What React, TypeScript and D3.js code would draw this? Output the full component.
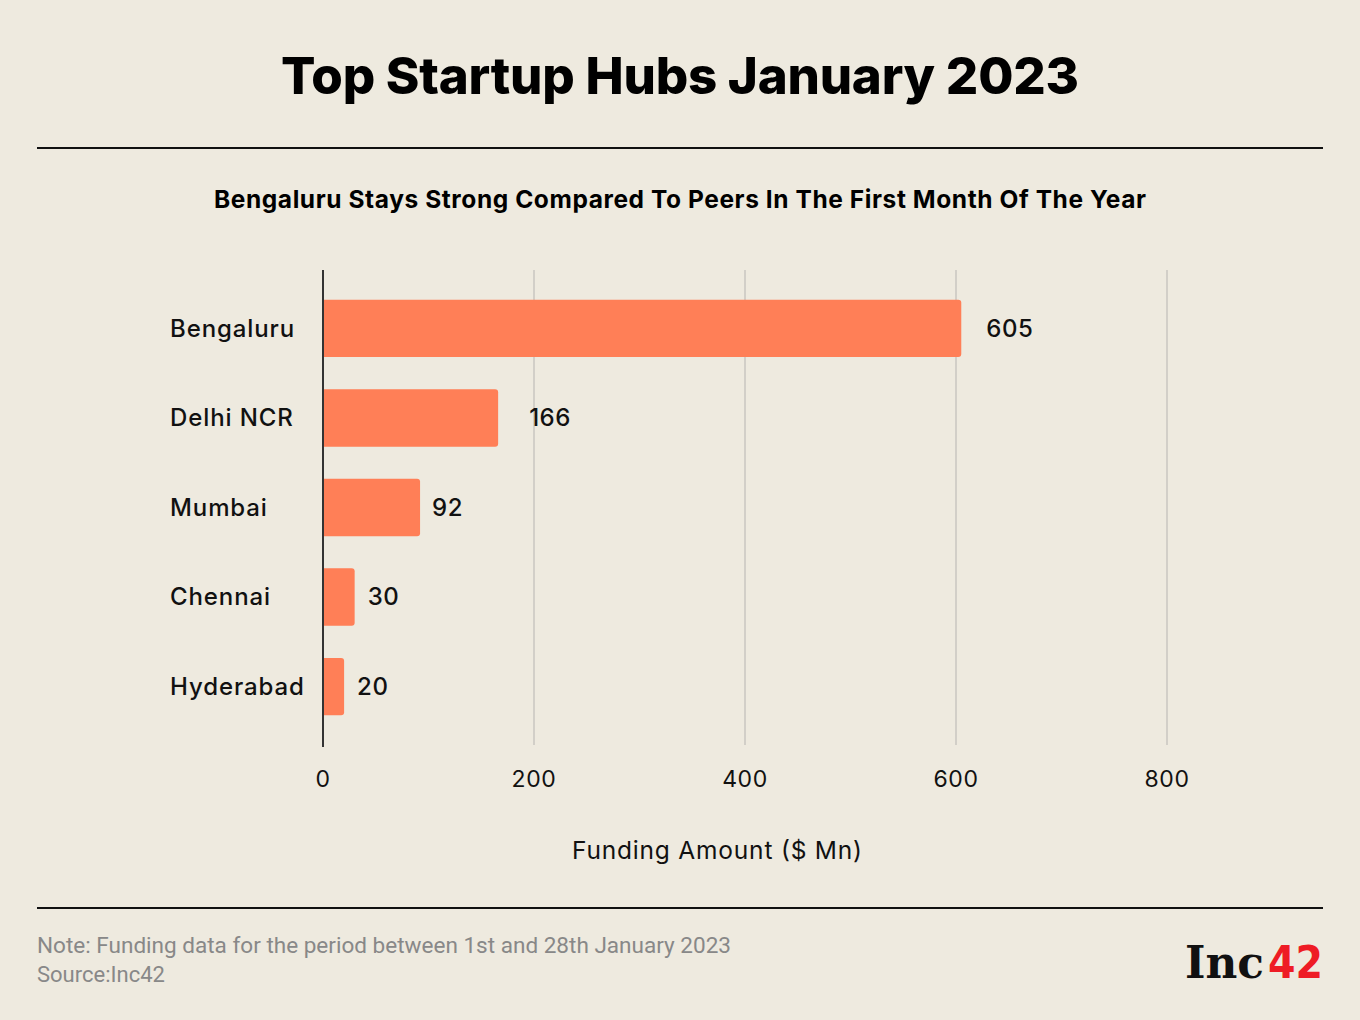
import React from "react";
import * as d3 from "d3";

const cities = ["Bengaluru", "Delhi NCR", "Mumbai", "Chennai", "Hyderabad"];
const funding = [605, 166, 92, 30, 20];
const xTicks = [0, 200, 400, 600, 800];
const labelDx = [25, 31, 12, 13, 13];

const W = 1360;
const H = 1020;
const BG = "#EEEADF";
const BAR = "#FF7F57";
const FONT = "Inter, 'Open Sans', sans-serif";

export default function App() {
  const x = d3.scaleLinear().domain([0, 800]).range([323, 1167]);
  const y = d3
    .scaleBand<string>()
    .domain(cities)
    .range([270, 745])
    .paddingInner(0.36)
    .paddingOuter(0.333);

  return (
    <svg width={W} height={H} style={{ display: "block", position: "absolute", left: 0, top: 0 }}>
      <rect x={0} y={0} width={W} height={H} fill={BG} />
      <text x={281} y={94} fontFamily={FONT} fontWeight={800} fontSize={51} fill="#000" textLength={798} lengthAdjust="spacing">
        Top Startup Hubs January 2023
      </text>
      <line x1={37} x2={1323} y1={148} y2={148} stroke="#111" strokeWidth={2} />
      <text x={214} y={208} fontFamily={FONT} fontWeight={700} fontSize={24.5} fill="#000" textLength={932} lengthAdjust="spacing">
        Bengaluru Stays Strong Compared To Peers In The First Month Of The Year
      </text>

      {xTicks.slice(1).map((t) => (
        <line key={t} x1={x(t)} x2={x(t)} y1={270} y2={745} stroke="#D2CFC8" strokeWidth={2} />
      ))}

      {cities.map((c, i) => (
        <g key={c}>
          <path
            d={(() => {
              const x0 = x(0);
              const x1 = x(funding[i]);
              const y0 = y(c)!;
              const h = y.bandwidth();
              const r = 3;
              return `M${x0},${y0}H${x1 - r}Q${x1},${y0} ${x1},${y0 + r}V${y0 + h - r}Q${x1},${y0 + h} ${x1 - r},${y0 + h}H${x0}Z`;
            })()}
            fill={BAR}
          />
          <text
            x={x(funding[i]) + labelDx[i]}
            y={y(c)! + y.bandwidth() / 2}
            dy="0.35em"
            fontFamily={FONT}
            fontSize={24}
            fontWeight={500}
            letterSpacing={0.5}
            fill="#111"
          >
            {funding[i]}
          </text>
          <text
            x={170}
            y={y(c)! + y.bandwidth() / 2}
            dy="0.35em"
            fontFamily={FONT}
            fontSize={24}
            fontWeight={500}
            letterSpacing={0.9}
            fill="#111"
          >
            {c}
          </text>
        </g>
      ))}

      <line x1={x(0)} x2={x(0)} y1={270} y2={747} stroke="#333" strokeWidth={2} />

      {xTicks.map((t) => (
        <text key={t} x={x(t)} y={787} textAnchor="middle" fontFamily={FONT} fontSize={23} letterSpacing={0.6} fill="#111">
          {t}
        </text>
      ))}

      <text x={572} y={859} fontFamily={FONT} fontSize={24.5} fill="#111" textLength={290} lengthAdjust="spacing">
        Funding Amount ($ Mn)
      </text>

      <line x1={37} x2={1323} y1={908} y2={908} stroke="#111" strokeWidth={2} />

      <text x={37} y={953} fontFamily="Roboto, sans-serif" fontSize={22} fill="#888" textLength={694} lengthAdjust="spacingAndGlyphs">
        Note: Funding data for the period between 1st and 28th January 2023
      </text>
      <text x={37} y={982} fontFamily="Roboto, sans-serif" fontSize={22} fill="#888">
        Source:Inc42
      </text>

      <text x={1185} y={978} fontFamily="'DejaVu Serif', serif" fontWeight={700} fontSize={44} fill="#111" textLength={79} lengthAdjust="spacingAndGlyphs">
        Inc
      </text>
      <text x={1268} y={978} fontFamily="'DejaVu Sans', sans-serif" fontWeight={700} fontSize={44} fill="#EE1C25" textLength={55} lengthAdjust="spacingAndGlyphs">
        42
      </text>
    </svg>
  );
}
